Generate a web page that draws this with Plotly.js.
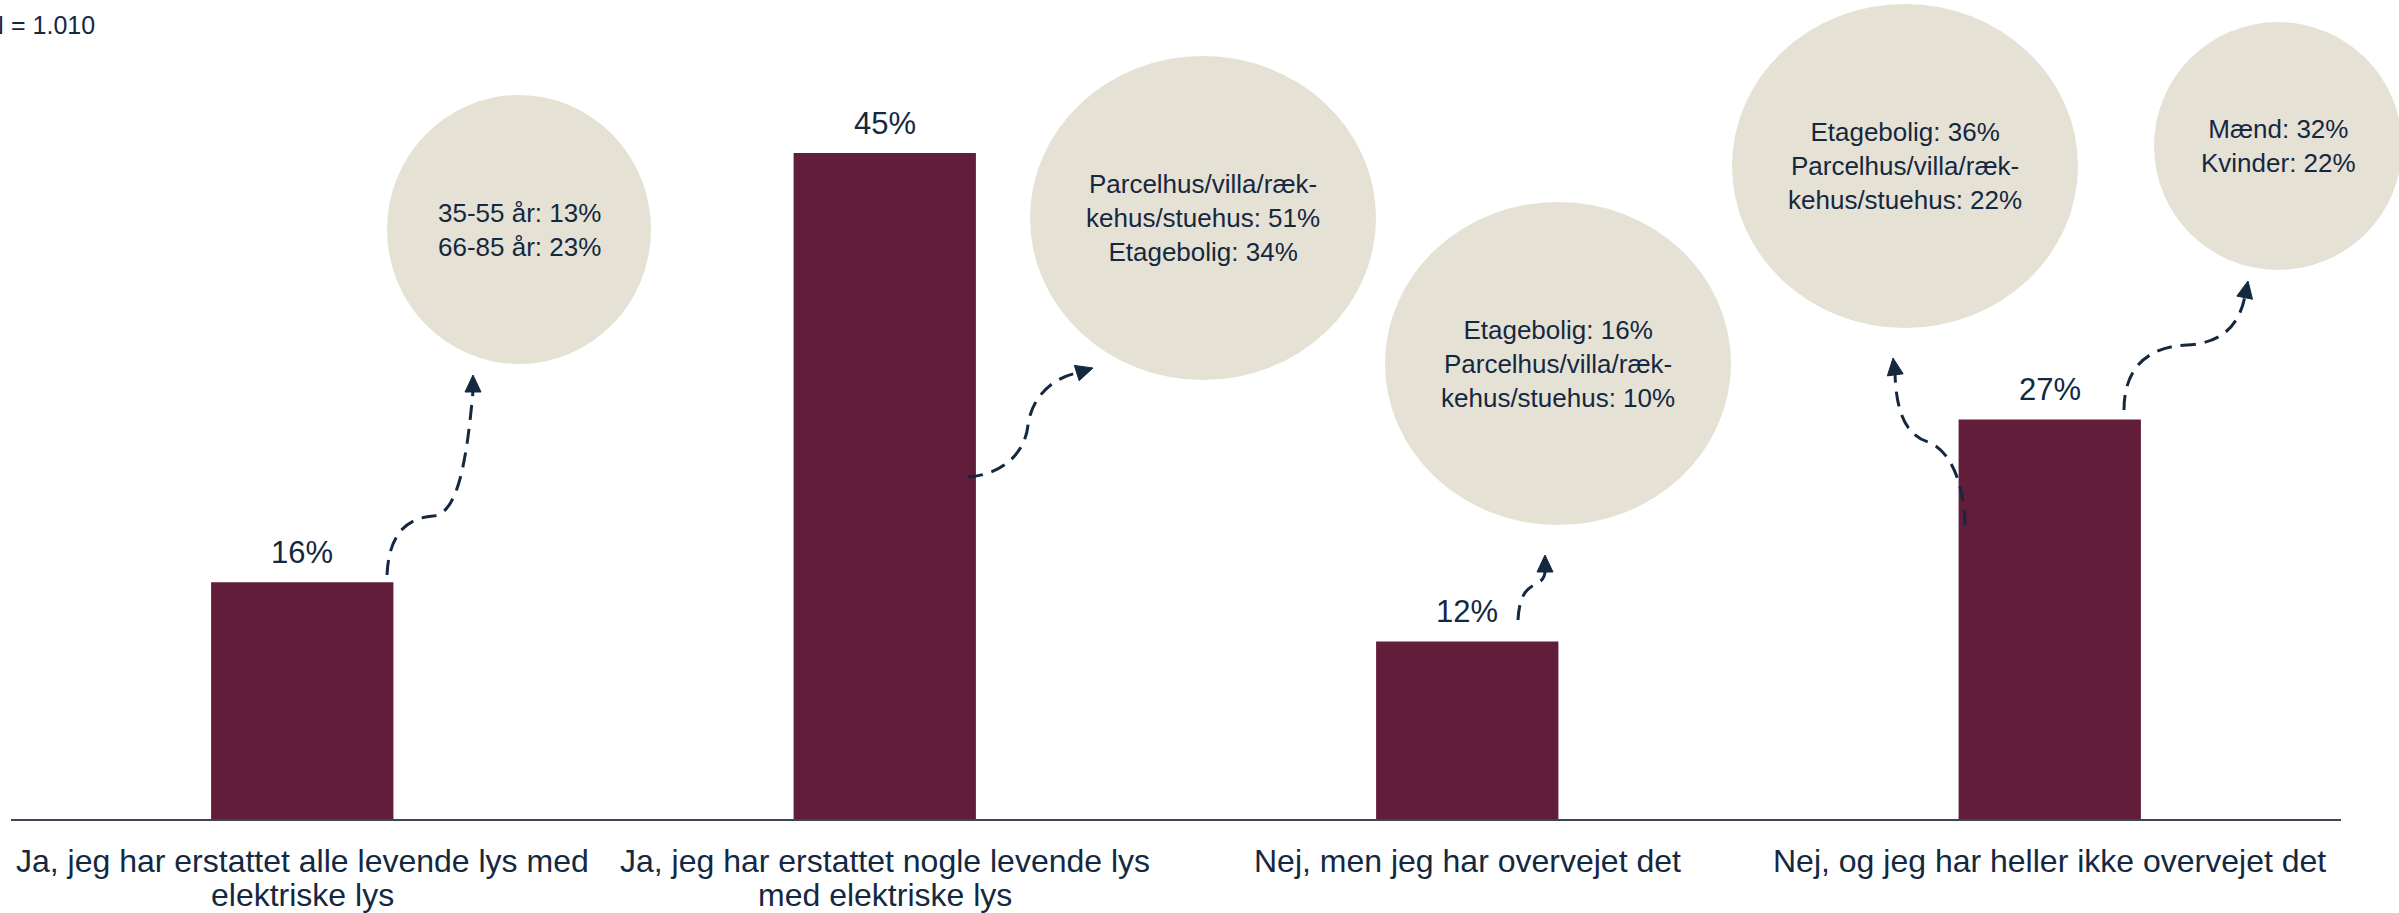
<!DOCTYPE html>
<html>
<head>
<meta charset="utf-8">
<script src="https://cdn.plot.ly/plotly-3.0.1.min.js"></script>
<style>html,body{margin:0;padding:0;background:#fff;}#chart{width:2399px;height:913px;}</style>
</head>
<body>
<div id="chart"></div>
<script>
// ---- data ----
const categories = [
  "Ja, jeg har erstattet alle levende lys med<br>elektriske lys",
  "Ja, jeg har erstattet nogle levende lys<br>med elektriske lys",
  "Nej, men jeg har overvejet det",
  "Nej, og jeg har heller ikke overvejet det"
];
const values = [16, 45, 12, 27];
const valueLabels = ["16%", "45%", "12%", "27%"];
const calloutTexts = [
  "35-55 år: 13%<br>66-85 år: 23%",
  "Parcelhus/villa/ræk-<br>kehus/stuehus: 51%<br>Etagebolig: 34%",
  "Etagebolig: 16%<br>Parcelhus/villa/ræk-<br>kehus/stuehus: 10%",
  "Etagebolig: 36%<br>Parcelhus/villa/ræk-<br>kehus/stuehus: 22%",
  "Mænd: 32%<br>Kvinder: 22%"
];
const sampleNote = "N = 1.010";

// ---- layout helpers (pixel -> paper) ----
const W = 2399, H = 913, ML = 11, MR = 58, MT = 0, MB = 94;
const PW = W - ML - MR, PH = H - MT - MB;
const fx = px => (px - ML) / PW;
const fy = py => (H - MB - py) / PH;
const toPaper = s => s.replace(/(-?\d+(?:\.\d+)?),(-?\d+(?:\.\d+)?)/g, (m, a, b) => fx(+a) + ',' + fy(+b));

const FONT = 'Liberation Sans, Arial, sans-serif';
const NAVY = '#14283f';
const BAR = '#621d3b';
const CIRCLE = '#e6e1d5';

// callout ellipses (pixel boxes: x0, x1, y0, y1)
const calloutBoxes = [
  [387, 651, 95, 364],
  [1030, 1376, 56, 380],
  [1385, 1731, 202, 525],
  [1732, 2078, 4, 328],
  [2154, 2402, 22, 270]
];

// dashed connector curves (pixel paths) and arrow tips [tipX, tipY, fromX, fromY]
const curves = [
  "M387,575 C389,532 408,518 433,516 C456,514 466,470 473,391",
  "M968,477 C1000,475 1025,455 1028,425 C1032,395 1055,377 1077,373",
  "M1518,620 C1519,600 1524,590 1534,585 C1542,581 1545,578 1545,571",
  "M1965,525 C1964,482 1950,450 1928,442 C1905,435 1896,410 1895,373",
  "M2124,410 C2124,370 2145,347 2187,345 C2225,343 2240,322 2245,296"
];
const tips = [
  [473, 375, 473, 391],
  [1093, 368, 1077, 373],
  [1545, 555, 1545, 571],
  [1893, 358, 1895, 373],
  [2248, 281, 2245, 296]
];

const shapes = [];
calloutBoxes.forEach(b => {
  shapes.push({type: 'circle', xref: 'paper', yref: 'paper',
    x0: fx(b[0]), x1: fx(b[1]), y0: fy(b[3]), y1: fy(b[2]),
    fillcolor: CIRCLE, line: {width: 0}, layer: 'below'});
});
curves.forEach(c => {
  shapes.push({type: 'path', xref: 'paper', yref: 'paper', path: toPaper(c),
    line: {color: NAVY, width: 3, dash: '15px,9px'}, layer: 'above'});
});
tips.forEach(t => {
  const dx = t[0] - t[2], dy = t[1] - t[3];
  const L = Math.hypot(dx, dy), ux = dx / L, uy = dy / L;
  const bx = t[0] - ux * 17, by = t[1] - uy * 17;
  const hw = 8;
  const p1 = [bx - uy * hw, by + ux * hw], p2 = [bx + uy * hw, by - ux * hw];
  const p = `M${t[0]},${t[1]} L${p1[0].toFixed(2)},${p1[1].toFixed(2)} L${p2[0].toFixed(2)},${p2[1].toFixed(2)} Z`;
  shapes.push({type: 'path', xref: 'paper', yref: 'paper', path: toPaper(p),
    fillcolor: NAVY, line: {color: NAVY, width: 1}, layer: 'above'});
});

const annotations = [];
// value labels above bars
values.forEach((v, i) => {
  annotations.push({x: i, y: v, xref: 'x', yref: 'y', text: valueLabels[i],
    showarrow: false, yanchor: 'bottom', xanchor: 'center', yshift: 10,
    font: {family: FONT, size: 31, color: NAVY}});
});
// category labels (one annotation per line, tight line spacing)
const LABEL_LINE_Y = [861, 895];
categories.forEach((c, i) => {
  c.split('<br>').forEach((line, j) => {
    annotations.push({x: i, y: fy(LABEL_LINE_Y[j]), xref: 'x', yref: 'paper', text: line,
      showarrow: false, xanchor: 'center', yanchor: 'middle',
      font: {family: FONT, size: 32, color: NAVY}});
  });
});
// callout texts
calloutTexts.forEach((t, i) => {
  const b = calloutBoxes[i];
  annotations.push({x: fx((b[0] + b[1]) / 2), y: fy((b[2] + b[3]) / 2), xref: 'paper', yref: 'paper',
    text: t, showarrow: false, xanchor: 'center', yanchor: 'middle', align: 'center',
    font: {family: FONT, size: 26, color: NAVY}});
});
// sample size note (partly cut at left edge, as in the source)
annotations.push({x: fx(97), y: fy(25), xref: 'paper', yref: 'paper', text: sampleNote,
  showarrow: false, xanchor: 'right', yanchor: 'middle',
  font: {family: FONT, size: 25, color: NAVY}});

const trace = {
  type: 'bar', x: [0, 1, 2, 3], y: values,
  marker: {color: BAR, line: {width: 0}},
  hoverinfo: 'skip', textposition: 'none'
};

const layout = {
  width: W, height: H,
  margin: {l: ML, r: MR, t: MT, b: MB, pad: 0},
  paper_bgcolor: '#ffffff', plot_bgcolor: '#ffffff',
  showlegend: false,
  bargap: 0.687,
  font: {family: FONT, color: NAVY},
  xaxis: {range: [-0.5, 3.5], showline: true, linecolor: '#3b4656', linewidth: 2,
    ticks: '', showgrid: false, zeroline: false, showticklabels: false,
    tickmode: 'array', tickvals: [0, 1, 2, 3], ticktext: categories, fixedrange: true},
  yaxis: {range: [0, 55.34], visible: false, showgrid: false, zeroline: false, fixedrange: true},
  shapes: shapes,
  annotations: annotations
};

Plotly.newPlot('chart', [trace], layout, {staticPlot: true, displayModeBar: false});
</script>
</body>
</html>
